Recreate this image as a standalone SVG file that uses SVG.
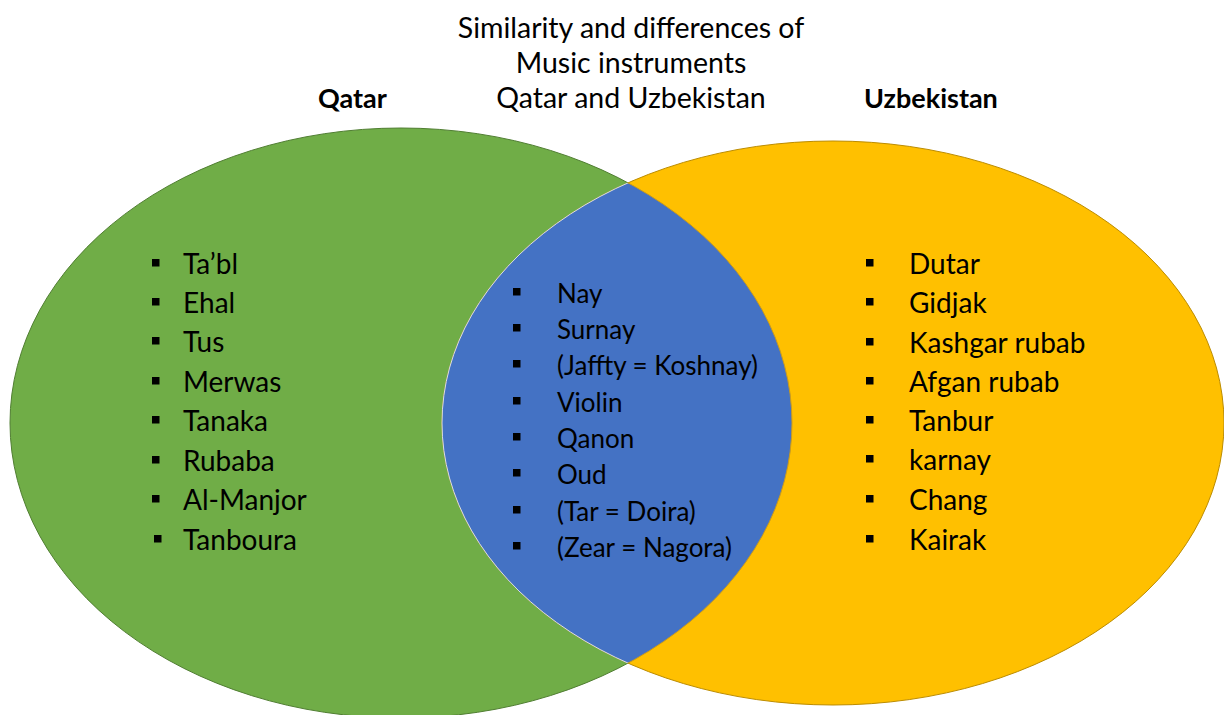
<svg xmlns="http://www.w3.org/2000/svg" xmlns:xlink="http://www.w3.org/1999/xlink" width="1224" height="715" viewBox="0 0 1224 715">
<style>
.t{font-family:Lato,"Liberation Sans",sans-serif;fill:#000}
.title{font-size:28.5px;text-anchor:middle}
.hdr{font-size:27px;font-weight:bold}
.item{font-size:28px}
.citem{font-size:26px}
</style>
<defs>
<rect id="b" x="0" y="0" width="7.5" height="7.5" fill="#000"/>
<clipPath id="clipG"><ellipse cx="401" cy="423" rx="391" ry="295"/></clipPath>
<clipPath id="clipO"><ellipse cx="833" cy="423" rx="391" ry="282"/></clipPath>
</defs>
<rect width="1224" height="715" fill="#fff"/>
<g id="qatar">
<ellipse cx="401" cy="423" rx="391" ry="295" fill="#70AD47" stroke="#507E32" stroke-width="1"/>
</g>
<g id="uzbekistan">
<ellipse cx="833" cy="423" rx="391" ry="282" fill="#FFC000" stroke="#BC8C00" stroke-width="1"/>
</g>
<g id="overlap">
<ellipse cx="833" cy="423" rx="391" ry="282" fill="#4472C4" stroke="#d8dde6" stroke-width="1" clip-path="url(#clipG)"/>
<ellipse cx="401" cy="423" rx="391" ry="295" fill="none" stroke="#C99A1E" stroke-width="1" clip-path="url(#clipO)"/>
</g>
<g id="title">
<text class="t title" x="631" y="38">Similarity and differences of</text>
<text class="t title" x="631" y="73">Music instruments</text>
<text class="t title" x="631" y="108">Qatar and Uzbekistan</text>
</g>
<g id="hdr-qatar"><text class="t hdr" x="318" y="108">Qatar</text></g>
<g id="hdr-uzb"><text class="t hdr" x="864" y="108">Uzbekistan</text></g>
<g id="list-qatar">
<use xlink:href="#b" x="152" y="259"/><text class="t item" x="183" y="274">Ta’bl</text>
<use xlink:href="#b" x="152" y="298"/><text class="t item" x="183" y="313">Ehal</text>
<use xlink:href="#b" x="152" y="337"/><text class="t item" x="183" y="352">Tus</text>
<use xlink:href="#b" x="152" y="377"/><text class="t item" x="183" y="392">Merwas</text>
<use xlink:href="#b" x="152" y="416"/><text class="t item" x="183" y="431">Tanaka</text>
<use xlink:href="#b" x="152" y="456"/><text class="t item" x="183" y="471">Rubaba</text>
<use xlink:href="#b" x="152" y="495"/><text class="t item" x="183" y="510">Al-Manjor</text>
<use xlink:href="#b" x="154" y="535"/><text class="t item" x="183" y="550">Tanboura</text>
</g>
<g id="list-common">
<use xlink:href="#b" x="513" y="288"/><text class="t citem" x="557" y="303">Nay</text>
<use xlink:href="#b" x="513" y="324"/><text class="t citem" x="557" y="339">Surnay</text>
<use xlink:href="#b" x="513" y="360"/><text class="t citem" x="557" y="375">(Jaffty = Koshnay)</text>
<use xlink:href="#b" x="513" y="397"/><text class="t citem" x="557" y="412">Violin</text>
<use xlink:href="#b" x="513" y="433"/><text class="t citem" x="557" y="448">Qanon</text>
<use xlink:href="#b" x="513" y="469"/><text class="t citem" x="557" y="484">Oud</text>
<use xlink:href="#b" x="513" y="506"/><text class="t citem" x="557" y="521">(Tar = Doira)</text>
<use xlink:href="#b" x="513" y="542"/><text class="t citem" x="557" y="557">(Zear = Nagora)</text>
</g>
<g id="list-uzb">
<use xlink:href="#b" x="866" y="259"/><text class="t item" x="909" y="274">Dutar</text>
<use xlink:href="#b" x="866" y="298"/><text class="t item" x="909" y="313">Gidjak</text>
<use xlink:href="#b" x="866" y="338"/><text class="t item" x="909" y="353">Kashgar rubab</text>
<use xlink:href="#b" x="866" y="377"/><text class="t item" x="909" y="392">Afgan rubab</text>
<use xlink:href="#b" x="866" y="416"/><text class="t item" x="909" y="431">Tanbur</text>
<use xlink:href="#b" x="866" y="455"/><text class="t item" x="909" y="470">karnay</text>
<use xlink:href="#b" x="866" y="495"/><text class="t item" x="909" y="510">Chang</text>
<use xlink:href="#b" x="866" y="535"/><text class="t item" x="909" y="550">Kairak</text>
</g>
</svg>
